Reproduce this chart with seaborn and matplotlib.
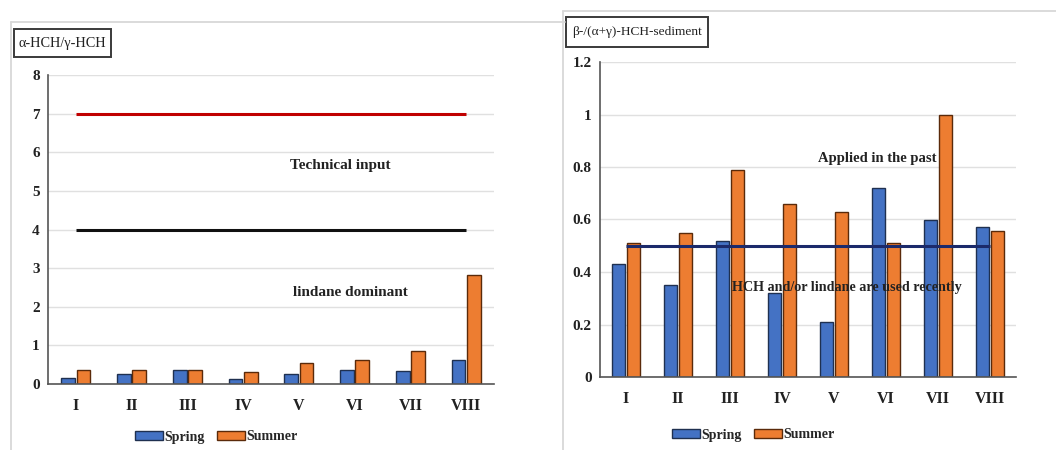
import numpy as np
import pandas as pd
import matplotlib
matplotlib.use("Agg")
import matplotlib.pyplot as plt
from matplotlib.lines import Line2D
from matplotlib.patches import Patch, Rectangle
from matplotlib.ticker import FuncFormatter
import seaborn as sns

# Sampling sites and seasons
sites = ["I", "II", "III", "IV", "V", "VI", "VII", "VIII"]
seasons = ["Spring", "Summer"]

# alpha-HCH / gamma-HCH ratio
alpha_gamma_spring = [0.15, 0.26, 0.36, 0.12, 0.26, 0.36, 0.34, 0.62]
alpha_gamma_summer = [0.35, 0.35, 0.35, 0.32, 0.54, 0.62, 0.86, 2.82]

# beta / (alpha + gamma) HCH ratio in sediment
beta_spring = [0.43, 0.35, 0.52, 0.32, 0.21, 0.72, 0.60, 0.57]
beta_summer = [0.51, 0.55, 0.79, 0.66, 0.63, 0.51, 1.00, 0.555]

# Diagnostic thresholds
technical_limit = 7
lindane_limit = 4
beta_limit = 0.5

season_colors = ["#4472C4", "#ED7D31"]
season_edges = ["#1F3050", "#5A2A0A"]

sns.set_style("white")
plt.rcParams["font.family"] = ["Liberation Serif", "DejaVu Serif"]

W, H = 1056, 450
fig = plt.figure(figsize=(W / 100, H / 100), dpi=100)


def px_box(x0, y0, x1, y1):
    return [x0 / W, 1 - y1 / H, (x1 - x0) / W, (y1 - y0) / H]


ax1 = fig.add_axes(px_box(48, 75, 494, 384))
ax2 = fig.add_axes(px_box(600, 62, 1016, 377))


def long_frame(spring, summer):
    return pd.DataFrame({
        "site": sites * 2,
        "season": [seasons[0]] * len(sites) + [seasons[1]] * len(sites),
        "value": list(spring) + list(summer),
    })


def draw_bars(ax, frame):
    sns.barplot(data=frame, x="site", y="value", hue="season", order=sites,
                hue_order=seasons, palette=season_colors, saturation=1,
                width=0.55, gap=0.1, linewidth=1.0, legend=False, ax=ax, zorder=2)
    for cont, ec in zip(ax.containers, season_edges):
        for bar in cont:
            bar.set_edgecolor(ec)
    ax.set_xlabel("")
    ax.set_ylabel("")
    ax.yaxis.grid(True, color="#e0e0e0", lw=1.0)
    ax.set_axisbelow(True)
    for side in ("top", "right"):
        ax.spines[side].set_visible(False)
    for side in ("left", "bottom"):
        ax.spines[side].set_color("#555555")
        ax.spines[side].set_linewidth(1.2)
    ax.set_xlim(-0.5, len(sites) - 0.5)
    ax.set_xticks(np.arange(-0.5, len(sites), 1.0), minor=True)
    ax.tick_params(axis="x", which="major", length=0, pad=10, labelsize=11.5)
    ax.tick_params(axis="x", which="minor", length=4, width=1.2, color="#555555", direction="out")
    ax.tick_params(axis="y", length=4, width=1.2, color="#555555", direction="out",
                   labelsize=11, pad=2)


def bold_ticks(ax):
    for lab in ax.get_xticklabels() + ax.get_yticklabels():
        lab.set_fontweight("bold")
        lab.set_color("#222222")


ends = [0, len(sites) - 1]

# Left panel: alpha/gamma ratio
draw_bars(ax1, long_frame(alpha_gamma_spring, alpha_gamma_summer))
ax1.set_ylim(0, 8)
ax1.set_yticks(range(0, 9))
bold_ticks(ax1)
ax1.plot(ends, [technical_limit] * 2, color="#C00000", lw=2.2, solid_capstyle="butt", zorder=3)
ax1.plot(ends, [lindane_limit] * 2, color="#111111", lw=2.2, solid_capstyle="butt", zorder=3)
ax1.text(4.74, 5.65, "Technical input", ha="center", va="center",
         fontsize=11, fontweight="bold", color="#222222")
ax1.text(4.92, 2.38, "lindane dominant", ha="center", va="center",
         fontsize=11, fontweight="bold", color="#222222")

# Right panel: beta/(alpha+gamma) ratio
draw_bars(ax2, long_frame(beta_spring, beta_summer))
ax2.set_ylim(0, 1.2)
ax2.set_yticks(np.arange(0, 1.21, 0.2))
ax2.yaxis.set_major_formatter(FuncFormatter(lambda v, p: f"{v:g}"))
bold_ticks(ax2)
ax2.plot(ends, [beta_limit] * 2, color="#1B2A6B", lw=2.2, solid_capstyle="butt", zorder=3)
ax2.text(4.83, 0.834, "Applied in the past", ha="center", va="center",
         fontsize=10.5, fontweight="bold", color="#222222", zorder=4)
ax2.text(4.25, 0.34, "HCH and/or lindane are used recently", ha="center", va="center",
         fontsize=10.2, fontweight="bold", color="#222222", zorder=4)

# Panel frames
frame_color = "#d8d8d8"
for xs, ys in [((11, 565), (22, 22)), ((11, 11), (22, 450)),
               ((563, 1056), (11, 11)), ((563, 563), (11, 450))]:
    fig.add_artist(Line2D([x / W for x in xs], [1 - y / H for y in ys],
                          transform=fig.transFigure, color=frame_color, lw=1.3))

# Panel titles in boxes
for (x0, y0, x1, y1), label, size in [((14, 29, 111, 57), "α-HCH/γ-HCH", 10.3),
                                       ((566, 17, 708, 47), "β-/(α+γ)-HCH-sediment", 9.6)]:
    fig.add_artist(Rectangle((x0 / W, 1 - y1 / H), (x1 - x0) / W, (y1 - y0) / H,
                             transform=fig.transFigure, facecolor="white",
                             edgecolor="#3a3a3a", lw=1.4))
    fig.text((x0 + x1) / 2 / W, 1 - (y0 + y1) / 2 / H, label, ha="center", va="center",
             fontsize=size, color="#222222")

# Legends
handles = [Patch(facecolor=c, edgecolor=e, lw=1.0, label=s)
           for c, e, s in zip(season_colors, season_edges, seasons)]
for cx, cy in [(216, 437), (753, 435)]:
    fig.legend(handles=handles, loc="center", bbox_to_anchor=(cx / W, 1 - cy / H),
               ncol=2, frameon=False, handlelength=2.0, handleheight=0.6,
               handletextpad=0.1, columnspacing=0.9, borderpad=0,
               prop={"size": 10, "weight": "bold"})

fig.savefig("out.png", dpi=100, facecolor="white")
